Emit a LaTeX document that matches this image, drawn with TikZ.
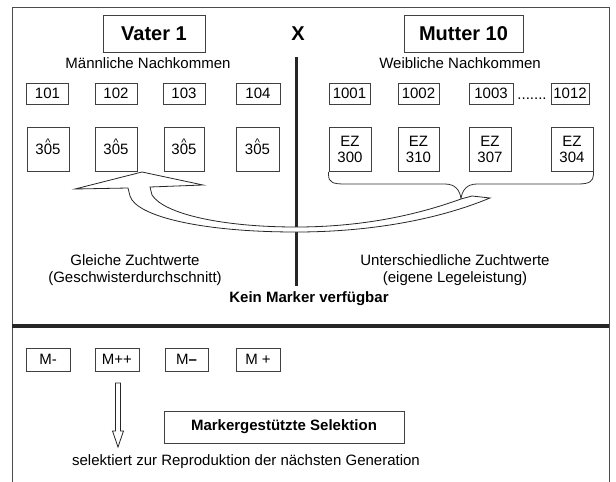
\documentclass[tikz,border=0pt]{standalone}
\usepackage{fontspec}
\setmainfont{Liberation Sans}
\usetikzlibrary{calc}
\newcommand\hatzero{\ooalign{0\cr\hidewidth\smash{\raisebox{8.5pt}{\fontsize{11}{11}\selectfont\textasciicircum}}\hidewidth\cr}}
\begin{document}
\begin{tikzpicture}[x=1pt,y=-1pt,
  box/.style={draw=black!75, line width=0.9pt, inner sep=0pt, font=\fontsize{15}{16}\selectfont, align=center},
  nb/.style={box, minimum width=42pt, minimum height=21pt},
  tb/.style={box, minimum width=42pt, minimum height=44pt},
  mb/.style={box, minimum width=44pt, minimum height=23pt},
  lbl/.style={font=\fontsize{15}{17}\selectfont, align=center, inner sep=0pt},
  bigl/.style={font=\fontsize{20}{22}\selectfont\bfseries},
  frame/.style={draw=black!70, line width=0.9pt},
  sep/.style={line width=3.5pt, draw=black!85},
  hollow/.style={draw=black!85, line width=0.8pt, fill=white, line join=miter}]
\useasboundingbox (0,0) rectangle (616,482);
% frame
\coordinate (f1) at (12,482); \coordinate (f2) at (12,7);
\coordinate (f3) at (609,7);  \coordinate (f4) at (609,482);
\draw[frame] (f1) -- (f2) -- (f3) -- (f4);
% separators
\coordinate (vtop) at (296.5,57); \coordinate (vbot) at (296.5,286);
\draw[sep] (vtop) -- (vbot);
\coordinate (hl) at (12,326); \coordinate (hr) at (609,326);
\draw[sep] (hl) -- (hr);
% parents
\node[box, bigl, minimum width=102pt, minimum height=37pt] (vater) at (154,33.5) {Vater 1};
\node[box, bigl, minimum width=119pt, minimum height=37pt] (mutter) at (463.5,33.5) {Mutter 10};
\node[bigl, inner sep=0pt] (x) at (298,34) {X};
\node[lbl] (mn) at (148,63) {Männliche Nachkommen};
\node[lbl] (wn) at (460,63) {Weibliche Nachkommen};
% male offspring
\node[nb] (m1) at (47.5,93.5) {101};
\node[nb] (m2) at (116,93.5) {102};
\node[nb] (m3) at (184,93.5) {103};
\node[nb, minimum width=44pt] (m4) at (258,93.5) {104};
\node[tb] (z1) at (48,149.5) {3\hatzero5};
\node[tb] (z2) at (116,149.5) {3\hatzero5};
\node[tb, minimum width=40pt] (z3) at (184,149.5) {3\hatzero5};
\node[tb, minimum width=43pt] (z4) at (257.5,149.5) {3\hatzero5};
% female offspring
\node[nb, minimum width=41pt] (w1) at (349.5,93.5) {1001};
\node[nb, minimum width=41pt] (w2) at (418.5,93.5) {1002};
\node[nb, minimum width=44pt] (w3) at (491,93.5) {1003};
\node[nb, minimum width=38pt] (w4) at (570,93.5) {1012};
\node[lbl, anchor=base] (dots) at (532,99) {.......};
\node[tb] (e1) at (350,149.5) {EZ\\300};
\node[tb, minimum width=41pt] (e2) at (418.5,149.5) {EZ\\310};
\node[tb] (e3) at (490,149.5) {EZ\\307};
\node[tb] (e4) at (572,149.5) {EZ\\304};
% brace
\coordinate (btip) at (461,199);
\draw[draw=black!80, line width=0.8pt] (e1.south west) -- ++(0,3)
  .. controls +(0,8) and (334,184) .. (345,184) -- (445,184)
  .. controls (455,184) and (460,190) .. (btip)
  .. controls (462,190) and (467,184) .. (477,184) -- (578,184)
  .. controls (590,184) and (593,181) .. ($(e4.south east)+(0,3)$) -- (e4.south east);
% curved hollow arrow
\coordinate (atip) at (142,172);
\draw[hollow] (490,198) .. controls (432,222) and (362,232) .. (296,232)
  .. controls (200,232) and (136,216) .. (130,196) -- (128,188)
  -- (75,189) -- (atip) -- (203,185) -- (150,187)
  -- (152,195) .. controls (164,214) and (222,227) .. (296,227)
  .. controls (370,227) and (425,212) .. (btip)
  -- (472,196) -- cycle;
% captions
\node[lbl] (gz) at (135,270) {Gleiche Zuchtwerte\\(Geschwisterdurchschnitt)};
\node[lbl] (uz) at (455,270) {Unterschiedliche Zuchtwerte\\(eigene Legeleistung)};
\node[lbl, font=\fontsize{15}{17}\selectfont\bfseries] (km) at (309,299) {Kein Marker verfügbar};
% marker section
\node[mb] (ma) at (48,359.5) {M-};
\node[mb] (mpp) at (117,359.5) {M++};
\node[mb, minimum width=43pt] (mmm) at (186.5,359.5) {M\textbf{--}};
\node[mb] (mp) at (258,359.5) {M +};
\coordinate (da) at (118,383);
\draw[hollow] ($(da)+(-2.5,0)$) -- ($(da)+(2.5,0)$) -- ($(da)+(2.5,48)$) -- ($(da)+(5.5,48)$)
  -- ($(da)+(0,64)$) -- ($(da)+(-5.5,48)$) -- ($(da)+(-2.5,48)$) -- cycle;
\node[box, font=\fontsize{15}{17}\selectfont\bfseries, minimum width=240pt, minimum height=32pt] (ms) at (284,427) {Markergestützte Selektion};
\node[lbl] (sel) at (246,462) {selektiert zur Reproduktion der nächsten Generation};
\end{tikzpicture}
\end{document}
